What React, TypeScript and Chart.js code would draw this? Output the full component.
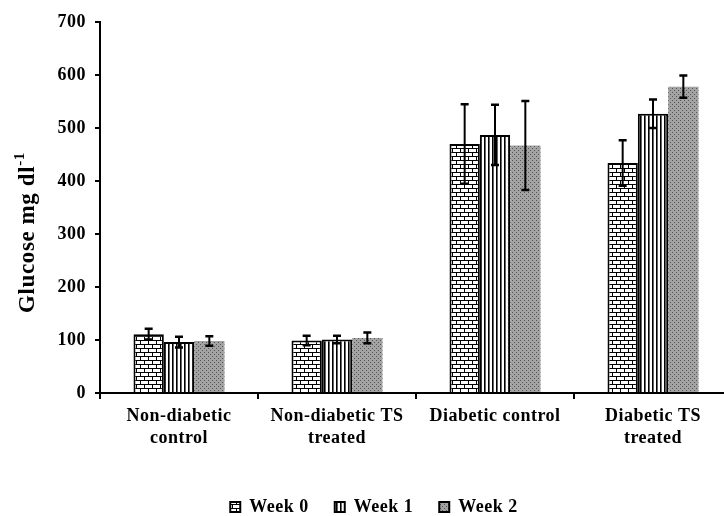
import React, { useEffect, useRef } from "react";
import { Chart, registerables } from "chart.js";
Chart.register(...registerables);

const categories = [
  ["Non-diabetic", "control"],
  ["Non-diabetic TS", "treated"],
  ["Diabetic control"],
  ["Diabetic TS", "treated"],
];
const seriesNames = ["Week 0", "Week 1", "Week 2"];
const week0 = [111, 99, 470, 434];
const week1 = [96, 101, 487, 527];
const week2 = [98, 104, 467, 578];
const week0Err = [10, 9, 75, 43];
const week1Err = [10, 7, 57, 27];
const week2Err = [9, 10, 84, 21];
const yMin = 0;
const yMax = 700;
const yStep = 100;
const yTitleMain = "Glucose mg dl";
const yTitleSup = "-1";

const FONT = "'Liberation Serif', 'Times New Roman', serif";
const SPACING = "0.5px";

function makePattern(kind: string): CanvasPattern | string {
  const c = document.createElement("canvas");
  const g = c.getContext("2d");
  if (!g) return "#fff";
  if (kind === "brick") {
    c.width = 8;
    c.height = 8;
    g.fillStyle = "#fff";
    g.fillRect(0, 0, 8, 8);
    g.fillStyle = "#000";
    g.fillRect(0, 0, 8, 1);
    g.fillRect(0, 4, 8, 1);
    g.fillRect(0, 0, 1, 4);
    g.fillRect(4, 4, 1, 4);
  } else if (kind === "stripes") {
    c.width = 4;
    c.height = 4;
    g.fillStyle = "#fff";
    g.fillRect(0, 0, 4, 4);
    g.fillStyle = "#000";
    g.fillRect(0, 0, 1.6, 4);
  } else {
    c.width = 4;
    c.height = 4;
    g.fillStyle = "#a3a3a3";
    g.fillRect(0, 0, 4, 4);
    g.fillStyle = "#555";
    g.fillRect(0, 0, 1, 1);
    g.fillRect(2, 2, 1, 1);
  }
  const p = g.createPattern(c, "repeat");
  return p || "#fff";
}

const errorBarPlugin = {
  id: "errorBars",
  afterDatasetsDraw(chart: any) {
    const ctx = chart.ctx;
    const yScale = chart.scales.y;
    ctx.save();
    ctx.strokeStyle = "#000";
    chart.data.datasets.forEach((ds: any, di: number) => {
      const meta = chart.getDatasetMeta(di);
      if (meta.hidden) return;
      meta.data.forEach((el: any, i: number) => {
        const v = ds.data[i];
        const e = ds.errors[i];
        const yTop = yScale.getPixelForValue(v + e);
        const yBot = yScale.getPixelForValue(v - e);
        const x = el.x;
        const cap = 4;
        ctx.lineWidth = 2;
        ctx.beginPath();
        ctx.moveTo(x, yTop);
        ctx.lineTo(x, yBot);
        ctx.stroke();
        ctx.lineWidth = 2.5;
        ctx.beginPath();
        ctx.moveTo(x - cap, yTop);
        ctx.lineTo(x + cap, yTop);
        ctx.moveTo(x - cap, yBot);
        ctx.lineTo(x + cap, yBot);
        ctx.stroke();
      });
    });
    ctx.restore();
  },
};

const spacingPlugin = {
  id: "spacing",
  beforeLayout(chart: any) {
    chart.ctx.letterSpacing = SPACING;
  },
  beforeDraw(chart: any) {
    chart.ctx.letterSpacing = SPACING;
  },
};

const yTitlePlugin = {
  id: "yTitle",
  afterDraw(chart: any) {
    const ctx = chart.ctx;
    const area = chart.chartArea;
    const cx = area.left - 72;
    const cy = (area.top + area.bottom) / 2 + 25;
    ctx.save();
    ctx.letterSpacing = "0.6px";
    ctx.translate(cx, cy);
    ctx.rotate(-Math.PI / 2);
    ctx.fillStyle = "#000";
    ctx.textBaseline = "middle";
    ctx.textAlign = "left";
    ctx.font = `bold 23px ${FONT}`;
    const wMain = ctx.measureText(yTitleMain).width;
    ctx.font = `bold 15px ${FONT}`;
    const wSup = ctx.measureText(yTitleSup).width;
    const start = -(wMain + wSup) / 2;
    ctx.font = `bold 23px ${FONT}`;
    ctx.fillText(yTitleMain, start, 0);
    ctx.font = `bold 15px ${FONT}`;
    ctx.fillText(yTitleSup, start + wMain, -8);
    ctx.restore();
  },
};

export default function App() {
  const ref = useRef<HTMLCanvasElement | null>(null);
  useEffect(() => {
    if (!ref.current) return;
    const patterns = [makePattern("brick"), makePattern("stripes"), makePattern("dots")];
    const values = [week0, week1, week2];
    const errs = [week0Err, week1Err, week2Err];
    const chart = new Chart(ref.current, {
      type: "bar",
      data: {
        labels: categories as any,
        datasets: seriesNames.map((name, i) => ({
          label: name,
          data: values[i],
          errors: errs[i],
          backgroundColor: patterns[i] as any,
          borderColor: "#000",
          borderWidth: i < 2 ? { top: 2, left: 2, right: 2, bottom: 0 } : 0,
          borderSkipped: false,
          categoryPercentage: 0.576,
          barPercentage: 1.0,
        })) as any,
      },
      options: {
        animation: false,
        responsive: true,
        maintainAspectRatio: false,
        layout: { padding: { top: 22, left: 16, right: 8, bottom: 0 } },
        plugins: {
          legend: {
            position: "bottom",
            labels: {
              boxWidth: 10,
              boxHeight: 10,
              padding: 26,
              color: "#000",
              font: { family: FONT, size: 18, weight: "bold" },
              generateLabels: (c: any) => {
                const items = (Chart.defaults.plugins.legend.labels as any).generateLabels(c);
                return items.map((it: any) => ({ ...it, lineWidth: 2, strokeStyle: "#000" }));
              },
            },
          },
          tooltip: { enabled: false },
        },
        scales: {
          x: {
            afterFit: (s: any) => {
              s.height = 79;
            },
            grid: {
              offset: true,
              drawOnChartArea: false,
              drawTicks: true,
              tickLength: 6,
              color: "#000",
              lineWidth: 2,
            },
            border: { display: true, color: "#000", width: 2 },
            ticks: {
              color: "#000",
              font: { family: FONT, size: 18, weight: "bold", lineHeight: 1.22 },
              maxRotation: 0,
              autoSkip: false,
              padding: 6,
            },
          },
          y: {
            min: yMin,
            max: yMax,
            afterFit: (s: any) => {
              s.width = 84;
            },
            grid: {
              drawOnChartArea: false,
              drawTicks: true,
              tickLength: 5,
              color: "#000",
              lineWidth: 2,
            },
            border: { display: true, color: "#000", width: 2 },
            ticks: {
              stepSize: yStep,
              color: "#000",
              font: { family: FONT, size: 18, weight: "bold" },
              padding: 9,
            },
          },
        },
      },
      plugins: [spacingPlugin, errorBarPlugin, yTitlePlugin],
    } as any);
    return () => chart.destroy();
  }, []);
  return (
    <div
      style={{
        position: "fixed",
        left: 0,
        top: 0,
        width: 724,
        height: 516,
        overflow: "hidden",
        background: "#fff",
      }}
    >
      <div style={{ position: "relative", width: 740, height: 526 }}>
        <canvas ref={ref} />
      </div>
    </div>
  );
}
